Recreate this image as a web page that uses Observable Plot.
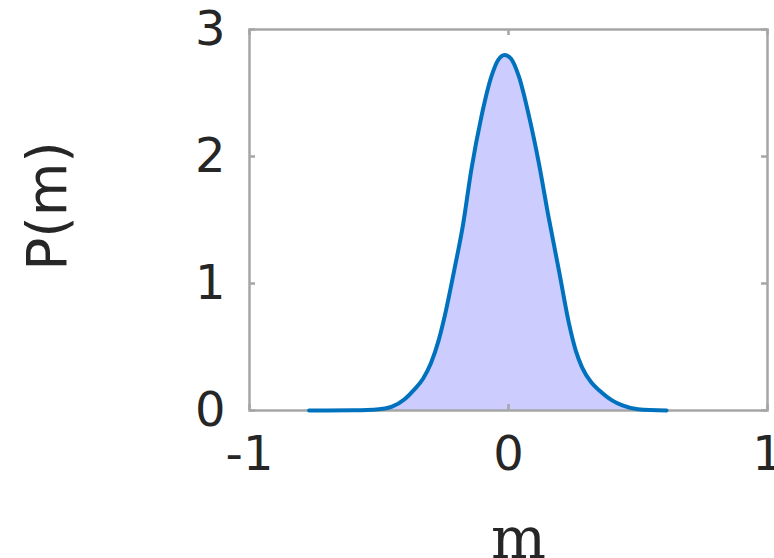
<!DOCTYPE html>
<html>
<head>
<meta charset="utf-8">
<script src="https://cdn.jsdelivr.net/npm/d3@7"></script>
<script src="https://cdn.jsdelivr.net/npm/@observablehq/plot@0.6"></script>
<style>
  html, body { margin: 0; padding: 0; background: #ffffff; }
</style>
</head>
<body>
<div id="chart"></div>
<script>
// Probability density P(m), sampled along m
const mValues = [-0.77, -0.6, -0.5, -0.45, -0.40, -0.366, -0.33, -0.30, -0.27, -0.25,
  -0.21, -0.175, -0.144, -0.105, -0.066, -0.04, -0.015, 0.01, 0.04,
  0.08, 0.117, 0.155, 0.195, 0.233, 0.26, 0.284, 0.32, 0.35, 0.40,
  0.44, 0.5, 0.61];
const pValues = [0, 0.002, 0.01, 0.03, 0.09, 0.16, 0.25, 0.37, 0.55, 0.71,
  1.10, 1.47, 1.89, 2.31, 2.63, 2.76, 2.80, 2.77, 2.63,
  2.31, 1.95, 1.52, 1.10, 0.69, 0.47, 0.34, 0.22, 0.16, 0.08,
  0.04, 0.01, 0];

const xTicks = [-1, 0, 1];
const yTicks = [0, 1, 2, 3];
const xLabel = "m";
const yLabel = "P(m)";

const data = mValues.map((m, i) => ({m, p: pValues[i]}));

const W = 774, H = 558;
const mL = 249, mR = 7, mT = 29, mB = 148;
const frameW = W - mL - mR, frameH = H - mT - mB;
const tickLen = 6;
const boxColor = "#a6a6a6";
const textColor = "#262626";

const chart = Plot.plot({
  width: W,
  height: H,
  marginLeft: mL,
  marginRight: mR,
  marginTop: mT,
  marginBottom: mB,
  style: {fontFamily: "DejaVu Sans", background: "#ffffff"},
  x: {domain: [-1, 1]},
  y: {domain: [0, 3]},
  marks: [
    Plot.areaY(data, {x: "m", y: "p", fill: "#ccccff", curve: "monotone-x"}),
    Plot.frame({stroke: boxColor, strokeWidth: 2.5}),
    // inward ticks on all four sides of the box
    Plot.ruleX(xTicks, {stroke: boxColor, strokeWidth: 2.5, insetTop: frameH - tickLen}),
    Plot.ruleX(xTicks, {stroke: boxColor, strokeWidth: 2.5, insetBottom: frameH - tickLen}),
    Plot.ruleY(yTicks, {stroke: boxColor, strokeWidth: 2.5, insetRight: frameW - tickLen}),
    Plot.ruleY(yTicks, {stroke: boxColor, strokeWidth: 2.5, insetLeft: frameW - tickLen}),
    Plot.lineY(data, {x: "m", y: "p", stroke: "#0072bd", strokeWidth: 4, curve: "monotone-x"}),
    Plot.axisX(xTicks, {tickSize: 0, tickPadding: 25, fontSize: 48, fill: textColor,
      tickFormat: d => `${d}`, label: null}),
    Plot.axisY(yTicks, {tickSize: 0, tickPadding: 24, fontSize: 48, fill: textColor,
      tickFormat: d => `${d}`, label: null}),
    Plot.text([yLabel], {frameAnchor: "left", dx: -201, dy: -14, rotate: -90,
      fontSize: 55, fill: textColor, textAnchor: "middle"}),
    Plot.text([xLabel], {frameAnchor: "bottom", dy: 147, dx: 10, lineAnchor: "bottom",
      fontFamily: "DejaVu Serif", fontSize: 58, fill: textColor, textAnchor: "middle"})
  ]
});

document.getElementById("chart").appendChild(chart);
</script>
</body>
</html>
